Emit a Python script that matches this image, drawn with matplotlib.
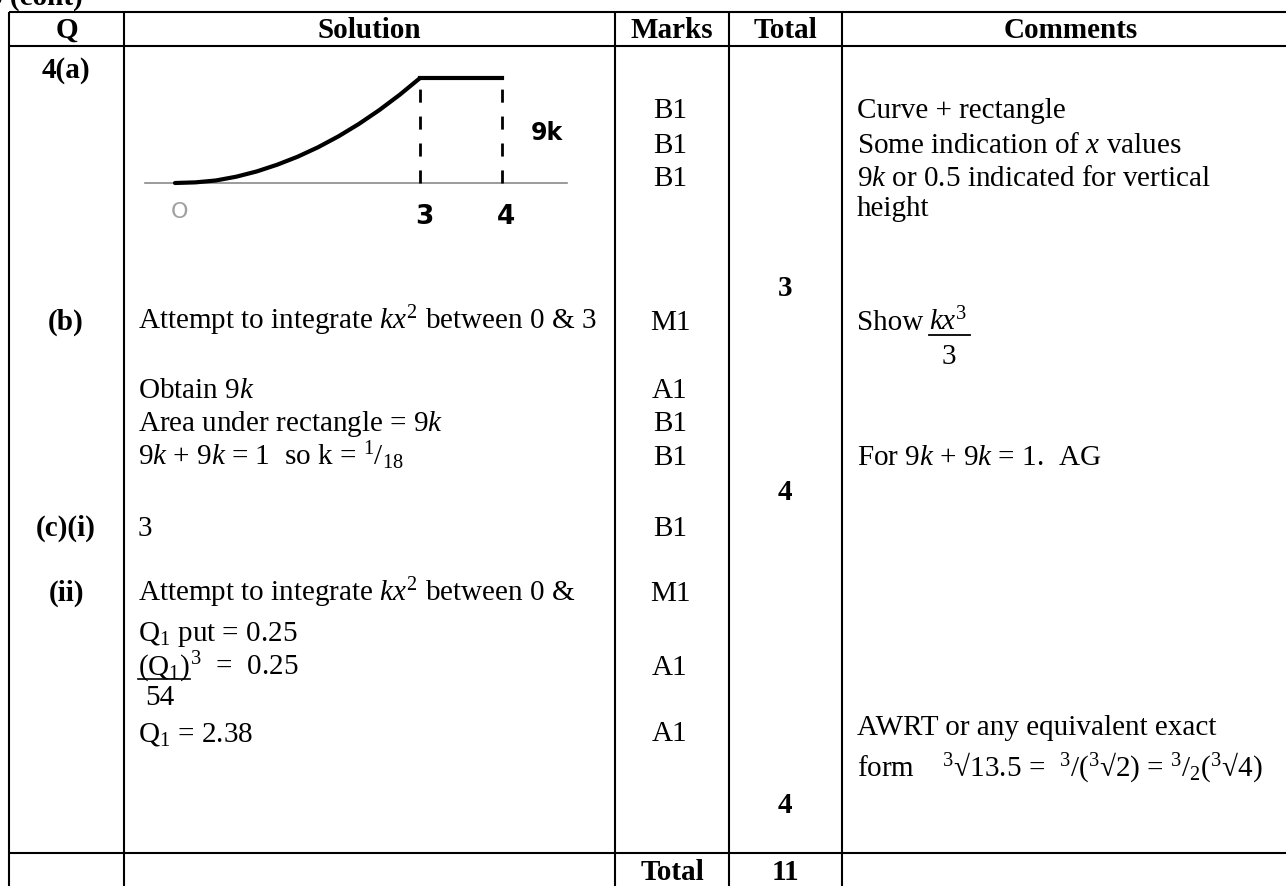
import matplotlib
matplotlib.use('Agg')
import matplotlib.pyplot as plt

plt.rcParams['font.family'] = ['Liberation Serif', 'DejaVu Serif']
plt.rcParams['mathtext.fontset'] = 'custom'
plt.rcParams['mathtext.rm'] = 'Liberation Serif'
plt.rcParams['mathtext.it'] = 'Liberation Serif:italic'
plt.rcParams['mathtext.bf'] = 'Liberation Serif:bold'

W, H = 1286, 886
FS = 21

# --- table content -------------------------------------------------------
headers = ['Q', 'Solution', 'Marks', 'Total', 'Comments']
col_edges = [9, 124, 615, 729, 842, 1300]
row_lines = [12, 46, 853]

# (text, baseline)
q_labels = [('4(a)', 78), ('(b)', 330), ('(c)(i)', 536), ('(ii)', 601)]

solution_lines = [
    (r'Attempt to integrate $kx^2$ between 0 & 3', 329),
    (r'Obtain 9$k$', 398),
    (r'Area under rectangle = 9$k$', 431),
    (r'9$k$ + 9$k$ = 1  so k = $^1/_{18}$', 465),
    ('3', 536),
    (r'Attempt to integrate $kx^2$ between 0 &', 601),
    (r'Q$_1$ put = 0.25', 641),
    (r'Q$_1$ = 2.38', 741),
]

marks = [('B1', 118), ('B1', 153), ('B1', 186), ('M1', 330), ('A1', 398),
         ('B1', 431), ('B1', 465), ('B1', 536), ('M1', 601), ('A1', 675),
         ('A1', 741)]

totals = [('3', 296), ('4', 500), ('4', 813)]
grand_total = '11'

comments = [
    ('Curve + rectangle', 118),
    (r'Some indication of $x$ values', 153),
    (r'9$k$ or 0.5 indicated for vertical', 186),
    ('height', 216),
    (r'For 9$k$ + 9$k$ = 1.  AG', 465),
    ('AWRT or any equivalent exact', 735),
    ('form    $^3$\u221a13.5 =  $^3$/($^3$\u221a2) = $^3/_2$($^3$\u221a4)', 776),
]

# --- sketch of the pdf ---------------------------------------------------
curve_x = [0, 0.25, 0.5, 0.75, 1.0, 1.25, 1.5, 1.75, 2.0, 2.25, 2.5, 2.75, 3.0]
curve_y = [0, 0.003, 0.012, 0.030, 0.055, 0.087, 0.125, 0.170, 0.222,
           0.281, 0.347, 0.420, 0.5]
rect_x = [3, 4]
rect_h = 0.5
axis_x = [-0.37, 4.8]

fig = plt.figure(figsize=(W / 100, H / 100), dpi=100)
ax = fig.add_axes([0, 0, 1, 1])
ax.set_xlim(0, W)
ax.set_ylim(H, 0)
ax.axis('off')


def put(x, y, s, ha='left', bold=False, **kw):
    return ax.text(x, y, s, ha=ha, va='baseline', fontsize=FS,
                   fontweight='bold' if bold else 'normal', **kw)


def extent(t):
    r = fig.canvas.get_renderer()
    bb = t.get_window_extent(r)
    inv = ax.transData.inverted()
    (x0, _), (x1, _) = inv.transform([[bb.x0, bb.y0], [bb.x1, bb.y1]])
    return x0, x1


# grid
for x in col_edges[:-1]:
    ax.plot([x, x], [row_lines[0], H + 5], color='k', lw=1.5,
            solid_capstyle='butt')
for y in row_lines:
    ax.plot([col_edges[0], W + 5], [y, y], color='k', lw=1.5,
            solid_capstyle='butt')

put(-12, 5, '5 (cont)', bold=True)

# headers
for i, h in enumerate(headers):
    cx = (col_edges[i] + col_edges[i + 1]) / 2
    put(cx, 38, h, ha='center', bold=True)

for s, y in q_labels:
    put(66, y, s, ha='center', bold=True)

for s, y in solution_lines:
    put(138, y, s)

# (Q1)^3 = 0.25 over 54
tq = put(138, 675, r'(Q$_1$)')
fig.canvas.draw()
qx0, qx1 = extent(tq)
ax.plot([qx0, qx1], [679, 679], color='k', lw=1.2)
put(qx1, 675, r'$^3$  =  0.25')
put(145, 705, '54')

for s, y in marks:
    put(670, y, s, ha='center')

for s, y in totals:
    put(785, y, s, ha='center', bold=True)

put(672, 880, 'Total', ha='center', bold=True)
put(785, 880, grand_total, ha='center', bold=True)

for s, y in comments:
    put(857, y, s)

# Show kx^3 / 3
ts = put(857, 330, 'Show')
fig.canvas.draw()
sx0, sx1 = extent(ts)
tk = put(sx1 + 6, 330, r'$kx^3$')
fig.canvas.draw()
kx0, kx1 = extent(tk)
ax.plot([kx0, kx1 + 2], [335, 335], color='k', lw=1.3)
put((kx0 + kx1) / 2, 364, '3', ha='center')

# sketch inset
px_left, px_right, px_top, px_bot = 140, 580, 60, 240
x0_px, x_scale = 175, 81.7
y0_px, y_scale = 183, 210
sk = fig.add_axes([px_left / W, 1 - px_bot / H,
                   (px_right - px_left) / W, (px_bot - px_top) / H])
sk.set_xlim((px_left - x0_px) / x_scale, (px_right - x0_px) / x_scale)
sk.set_ylim((y0_px - px_bot) / y_scale, (y0_px - px_top) / y_scale)
sk.axis('off')

sk.plot(axis_x, [0, 0], color='#8a8a8a', lw=1.2)
sk.plot(curve_x, curve_y, color='k', lw=3, solid_capstyle='round')
sk.plot(rect_x, [rect_h, rect_h], color='k', lw=3)
for xv in rect_x:
    sk.plot([xv, xv], [0, rect_h], color='k', lw=2,
            linestyle=(0, (4.7, 5)))
sk.text(0.05, -0.14, 'O', color='#a0a0a0', fontsize=16, ha='center',
        va='center', family='DejaVu Sans')
sk.text(3.05, -0.16, '3', color='k', fontsize=19, ha='center', va='center',
        family='DejaVu Sans', fontweight='bold')
sk.text(4.05, -0.16, '4', color='k', fontsize=19, ha='center', va='center',
        family='DejaVu Sans', fontweight='bold')
sk.text(4.55, 0.24, '9k', color='k', fontsize=17, ha='center', va='center',
        family='DejaVu Sans', fontweight='bold')

fig.savefig('out.png', dpi=100)
